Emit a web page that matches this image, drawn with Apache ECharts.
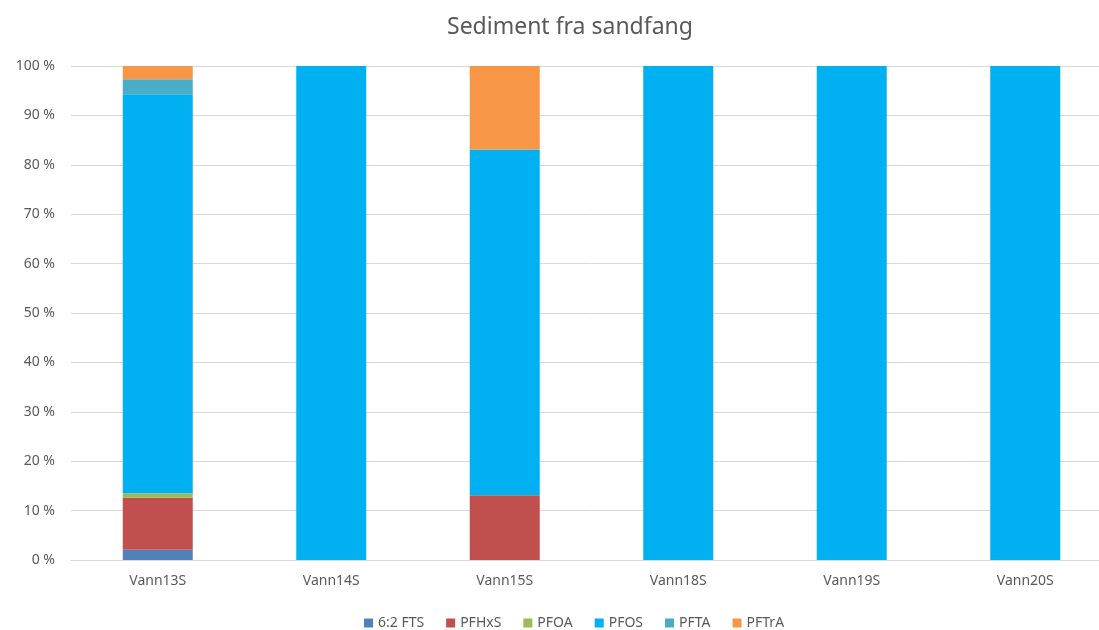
<!DOCTYPE html>
<html>
<head>
<meta charset="utf-8">
<script src="https://cdn.jsdelivr.net/npm/echarts@6/dist/echarts.min.js"></script>
<style>
  html, body { margin: 0; padding: 0; background: #fff; overflow: hidden; }
  #chart { width: 1112px; height: 630px; }
</style>
</head>
<body>
<div id="chart"></div>
<script>
var categories = ['Vann13S', 'Vann14S', 'Vann15S', 'Vann18S', 'Vann19S', 'Vann20S'];
var fts62 = [2.1, 0, 0, 0, 0, 0];
var pfhxs = [10.5, 0, 13.1, 0, 0, 0];
var pfoa = [0.9, 0, 0, 0, 0, 0];
var pfos = [80.8, 100, 70.0, 100, 100, 100];
var pfta = [3.0, 0, 0, 0, 0, 0];
var pftra = [2.7, 0, 16.9, 0, 0, 0];

var seriesNames = ['6:2 FTS', 'PFHxS', 'PFOA', 'PFOS', 'PFTA', 'PFTrA'];
var seriesData = [fts62, pfhxs, pfoa, pfos, pfta, pftra];
var colors = ['#4f81bd', '#c0504d', '#9bbb59', '#00b0f0', '#4bacc6', '#f79646'];

var font = 'Noto Sans';
var chart = echarts.init(document.getElementById('chart'));

var series = seriesNames.map(function (name, i) {
  return {
    name: name,
    type: 'bar',
    stack: 'total',
    barWidth: 70,
    itemStyle: { color: colors[i] },
    data: seriesData[i]
  };
});

chart.setOption({
  animation: false,
  color: colors,
  title: {
    text: 'Sediment fra sandfang',
    left: 442,
    top: 11,
    textStyle: { color: '#595959', fontSize: 23, fontWeight: 'normal', fontFamily: font }
  },
  legend: {
    data: seriesNames,
    bottom: -5,
    left: 359,
    icon: 'rect',
    itemWidth: 9,
    itemHeight: 9,
    itemGap: 22,
    textStyle: { color: '#595959', fontSize: 14, fontFamily: font }
  },
  grid: {
    left: 71,
    top: 66,
    right: 0,
    bottom: 70
  },
  xAxis: {
    type: 'category',
    data: categories,
    axisLine: { lineStyle: { color: '#d9d9d9', width: 1 } },
    axisTick: { show: false },
    axisLabel: { color: '#595959', fontSize: 14, fontFamily: font, margin: 14 }
  },
  yAxis: {
    type: 'value',
    min: 0,
    max: 100,
    interval: 10,
    axisLine: { show: false },
    axisTick: { show: false },
    splitLine: { lineStyle: { color: '#d9d9d9', width: 1 } },
    axisLabel: {
      color: '#595959', fontSize: 14, fontFamily: font, margin: 16,
      formatter: function (v) { return v + ' %'; }
    }
  },
  series: series
});
</script>
</body>
</html>
